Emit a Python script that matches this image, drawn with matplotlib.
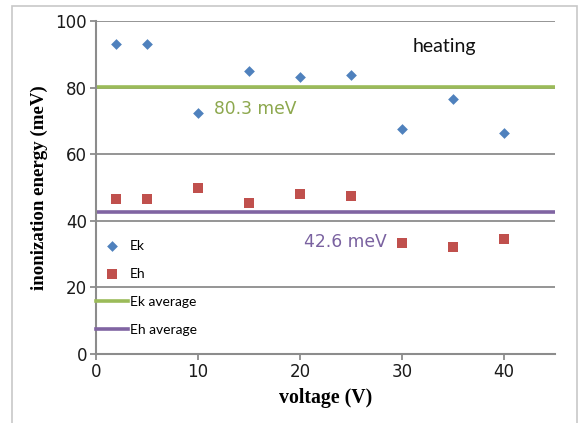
import matplotlib
matplotlib.use("Agg")
import matplotlib.pyplot as plt
from matplotlib.patches import Rectangle

voltage = [2, 5, 10, 15, 20, 25, 30, 35, 40]
ek = [93.2, 93.2, 72.5, 85.1, 83.1, 83.7, 67.7, 76.5, 66.5]
eh = [46.6, 46.6, 49.7, 45.2, 48.0, 47.4, 33.4, 32.2, 34.5]
ek_avg = 80.3
eh_avg = 42.6

c_ek = "#4F81BD"
c_eh = "#C0504D"
c_ekavg = "#9BBB59"
c_ehavg = "#8064A2"

fig = plt.figure(figsize=(5.78, 4.23), dpi=100)
fig.patches.append(Rectangle((0.0208, -0.01), 0.977, 0.9958, transform=fig.transFigure,
                             fill=False, edgecolor="#C8C8C8", linewidth=1.2))
ax = fig.add_axes([0.1661, 0.1631, 0.7941, 0.7873])

ax.set_xlim(0, 45)
ax.set_ylim(0, 100)
ax.set_xticks([0, 10, 20, 30, 40])
ax.set_yticks([0, 20, 40, 60, 80, 100])
for y in [20, 40, 60, 80, 100]:
    ax.axhline(y, color="#8C8C8C", linewidth=1.3, zorder=1)

ax.axhline(ek_avg, color=c_ekavg, linewidth=2.6, zorder=2, label="Ek average")
ax.axhline(eh_avg, color=c_ehavg, linewidth=2.6, zorder=2, label="Eh average")
ax.scatter(voltage, ek, marker="D", s=30, color=c_ek, zorder=3, label="Ek", linewidths=0)
ax.scatter(voltage, eh, marker="s", s=52, color=c_eh, zorder=3, label="Eh", linewidths=0)

for s in ["top", "right"]:
    ax.spines[s].set_visible(False)
for s in ["left", "bottom"]:
    ax.spines[s].set_color("#8C8C8C")
    ax.spines[s].set_linewidth(1.5)
ax.tick_params(axis="both", colors="#8C8C8C", length=4.5, width=1.3, direction="out",
               labelcolor="#1A1A1A", labelsize=12, pad=2)
for lab in ax.get_xticklabels() + ax.get_yticklabels():
    lab.set_fontfamily("DejaVu Sans")

ax.set_xlabel("voltage (V)", family="Liberation Serif", fontweight="bold", fontsize=14.3, labelpad=5)
ax.set_ylabel("inonization energy (meV)", family="Liberation Serif", fontweight="bold", fontsize=13.6, labelpad=5)

ax.text(15.6, 73.5, "80.3 meV", color="#8DA84E", fontsize=12.3, family="DejaVu Sans", va="center", ha="center")
ax.text(24.4, 33.5, "42.6 meV", color="#7A62A0", fontsize=12.3, family="DejaVu Sans", va="center", ha="center")
ax.text(34.2, 92.2, "heating", color="#111111", fontsize=14, family="Lato", va="center", ha="center")

handles, labels = ax.get_legend_handles_labels()
order = [labels.index(n) for n in ["Ek", "Eh", "Ek average", "Eh average"]]
leg = ax.legend([handles[i] for i in order], [labels[i] for i in order],
                loc="upper left", bbox_to_anchor=(0.0, 0.342), frameon=False,
                borderpad=0, borderaxespad=0, handlelength=2.3, handletextpad=0.12,
                labelspacing=1.15, prop={"family": "Lato", "size": 10}, markerscale=1.0)

fig.savefig("out.png", dpi=100)
